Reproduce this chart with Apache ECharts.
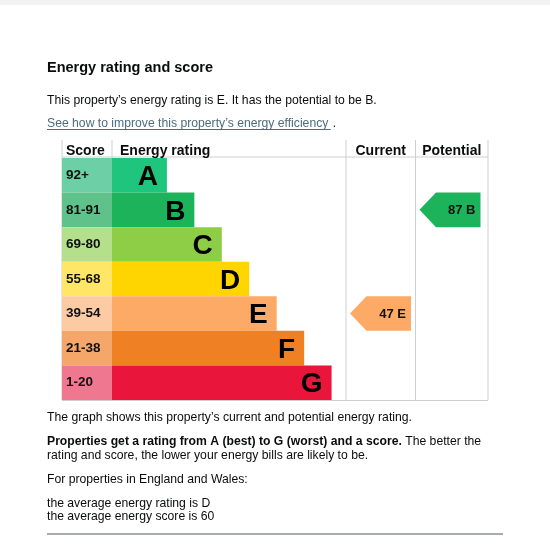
<!DOCTYPE html>
<html><head><meta charset="utf-8">
<script src="https://cdn.jsdelivr.net/npm/echarts@6/dist/echarts.min.js"></script>
<style>html,body{margin:0;padding:0;background:#fff}#c{width:550px;height:550px}</style>
</head><body><div id="c"></div>
<script>
// ---- data ----
const bands = ['A','B','C','D','E','F','G'];
const scoreRanges = ['92+','81-91','69-80','55-68','39-54','21-38','1-20'];
const barLengths = [2,3,4,5,6,7,8];
const bandColors = ['#1fc47d','#1cb35b','#8dce46','#ffd500','#fcaa65','#ef8023','#e9153b'];
const scoreColors = ['#6dcfa5','#60c28b','#b4e08b','#ffe666','#fdcba3','#f4a66b','#ef7890'];
const headers = ['Score','Energy rating','Current','Potential'];
const arrowColumns = ['Current','Potential'];
const arrowScores = [47, 87];
const arrowBands = ['E','B'];
const averageRating = 'D';
const averageScore = 60;

// ---- layout ----
const FONT = '"Liberation Sans", Arial, sans-serif';
const tableTop = 140, rowsTop = 158, rowsH = 242;
const colX = [62, 112, 346, 415.5, 488];
const unitPx = 27.45;
const TXT = '12.2px ' + FONT;
const INK = '#0b0c0c';

const chart = echarts.init(document.getElementById('c'), null, {renderer:'canvas'});

function measure(text, font){
  const ctx = document.createElement('canvas').getContext('2d');
  ctx.font = font; return ctx.measureText(text).width;
}

const grids = [], xAxes = [], yAxes = [];
for (let i = 0; i < 4; i++) {
  grids.push({left: colX[i], top: rowsTop, width: colX[i+1]-colX[i], height: rowsH});
  yAxes.push({type:'category', data: bands, inverse: true, gridIndex: i, show: false});
}
xAxes.push({type:'value', min:0, max:1, gridIndex:0, show:false});
xAxes.push({type:'value', min:0, max:(colX[2]-colX[1])/unitPx, gridIndex:1, show:false});
xAxes.push({type:'value', min:0, max:100, gridIndex:2, show:false});
xAxes.push({type:'value', min:0, max:100, gridIndex:3, show:false});

function arrowSeries(k){
  const bandIdx = bands.indexOf(arrowBands[k]);
  const color = bandColors[bandIdx];
  return {
    type:'custom', name: arrowColumns[k], xAxisIndex: 2+k, yAxisIndex: 2+k,
    data: [[arrowScores[k], arrowBands[k]]],
    encode: {x:0, y:1},
    renderItem(params, api){
      const cs = params.coordSys;
      const yc = api.coord([0, api.value(1)])[1];
      const h = api.size([0,1])[1];
      const x0 = cs.x + 4, x1 = x0 + 61, xb = x0 + 16.5;
      const y0 = yc - h/2, y1 = yc + h/2;
      return {type:'group', children:[
        {type:'polygon', shape:{points:[[x0,yc],[xb,y0],[x1,y0],[x1,y1],[xb,y1]]}, style:{fill: color}},
        {type:'text', style:{text: api.value(0)+' '+arrowBands[k], x: x1-5, y: yc+1, align:'right', verticalAlign:'middle', font:'bold 13px '+FONT, fill:'#111'}}
      ]};
    }
  };
}

const linkText = 'See how to improve this property\u2019s energy efficiency ';
const linkW = measure(linkText, TXT);

const lineStyle = {stroke:'#cfcfcf', lineWidth:1};
function txt(text, x, y, extra){
  return {type:'text', style:Object.assign({text, x, y, verticalAlign:'middle', font:TXT, fill:INK}, extra||{})};
}
const graphics = [
  {type:'rect', shape:{x:0,y:0,width:550,height:5}, style:{fill:'#f2f2f2'}},
  txt('Energy rating and score', 47, 68, {font:'bold 14.5px '+FONT}),
  txt('This property\u2019s energy rating is E. It has the potential to be B.', 47, 101),
  txt(linkText, 47, 124, {fill:'#4c6c80'}),
  {type:'line', shape:{x1:47, y1:129.5, x2:47+linkW-1, y2:129.5}, style:{stroke:'#4c6c80', lineWidth:1}},
  txt('.', 47+linkW+1, 124),
  // table lines
  {type:'line', shape:{x1:colX[0], y1:tableTop, x2:colX[0], y2:rowsTop+rowsH}, style:lineStyle},
  {type:'line', shape:{x1:colX[1], y1:tableTop, x2:colX[1], y2:rowsTop}, style:lineStyle},
  {type:'line', shape:{x1:colX[2], y1:tableTop, x2:colX[2], y2:rowsTop+rowsH}, style:lineStyle},
  {type:'line', shape:{x1:colX[3], y1:tableTop, x2:colX[3], y2:rowsTop+rowsH}, style:lineStyle},
  {type:'line', shape:{x1:colX[4], y1:tableTop, x2:colX[4], y2:rowsTop+rowsH}, style:lineStyle},
  {type:'line', shape:{x1:colX[0], y1:rowsTop-1, x2:colX[4], y2:rowsTop-1}, style:lineStyle},
  {type:'line', shape:{x1:colX[0], y1:rowsTop+rowsH+0.5, x2:colX[4], y2:rowsTop+rowsH+0.5}, style:lineStyle},
  // headers
  txt(headers[0], colX[0]+4, 151.5, {font:'bold 14px '+FONT}),
  txt(headers[1], colX[1]+8, 151.5, {font:'bold 14px '+FONT}),
  txt(headers[2], (colX[2]+colX[3])/2, 151.5, {font:'bold 14px '+FONT, align:'center'}),
  txt(headers[3], (colX[3]+colX[4])/2, 151.5, {font:'bold 14px '+FONT, align:'center'}),
  // footer texts
  txt('The graph shows this property\u2019s current and potential energy rating.', 47, 418),
  txt('{b|Properties get a rating from A (best) to G (worst) and a score.} The better the', 47, 442,
      {rich:{b:{fontWeight:'bold', fontSize:12.2, fontFamily:FONT, fill:INK}}}),
  txt('rating and score, the lower your energy bills are likely to be.', 47, 456),
  txt('For properties in England and Wales:', 47, 480),
  txt('the average energy rating is ' + averageRating, 47, 504),
  txt('the average energy score is ' + averageScore, 47, 517),
  {type:'line', shape:{x1:47, y1:534, x2:503, y2:534}, style:{stroke:'#8a8f91', lineWidth:1.5}}
];

chart.setOption({
  animation:false,
  backgroundColor:'#ffffff',
  grid: grids, xAxis: xAxes, yAxis: yAxes,
  series: [
    {type:'bar', name:'Score', xAxisIndex:0, yAxisIndex:0, barWidth:'100%',
     data: scoreRanges.map((s,i)=>({value:1, itemStyle:{color:scoreColors[i]}, label:{formatter:s}})),
     label:{show:true, position:'insideLeft', distance:4, fontFamily:FONT, fontWeight:'bold', fontSize:13.5, color:'#111'}},
    {type:'bar', name:'Energy rating', xAxisIndex:1, yAxisIndex:1, barWidth:'100%',
     data: barLengths.map((v,i)=>({value:v, itemStyle:{color:bandColors[i]}, label:{formatter:bands[i]}})),
     label:{show:true, position:'insideRight', distance:9, fontFamily:FONT, fontWeight:'bold', fontSize:28, color:'#000', offset:[0,2]}},
    arrowSeries(0), arrowSeries(1)
  ],
  graphic: graphics
});
</script></body></html>
